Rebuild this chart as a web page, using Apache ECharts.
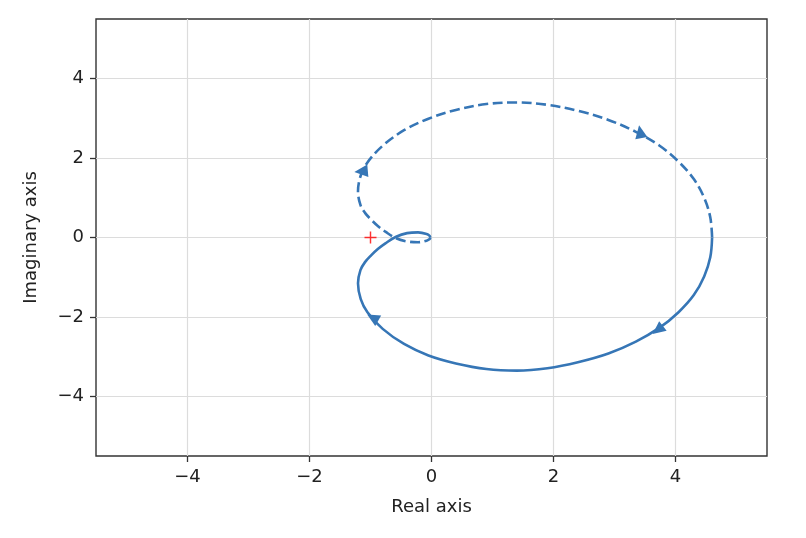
<!DOCTYPE html>
<html>
<head>
<meta charset="utf-8">
<script src="https://cdn.jsdelivr.net/npm/echarts@6/dist/echarts.min.js"></script>
<style>html,body{margin:0;padding:0;background:#fff;}#c{width:806px;height:538px;}</style>
</head>
<body>
<div id="c"></div>
<script>
// Positive-frequency branch (solid)
const solidRe = [4.60, 4.57, 4.47, 4.30, 4.05, 3.74, 3.35, 2.90, 2.40, 1.90, 1.40, 0.90, 0.40, -0.05, -0.45, -0.80, -1.05, -1.16, -1.205, -1.165, -1.09, -0.99, -0.88, -0.75, -0.58, -0.40, -0.22, -0.08, -0.03, -0.02];
const solidIm = [0.00, -0.50, -0.98, -1.45, -1.88, -2.27, -2.62, -2.92, -3.14, -3.29, -3.35, -3.31, -3.17, -2.97, -2.68, -2.30, -1.88, -1.55, -1.15, -0.82, -0.62, -0.45, -0.29, -0.14, 0.02, 0.11, 0.13, 0.09, 0.04, 0.00];
// Negative-frequency branch (dashed)
const dashRe = [4.60, 4.57, 4.47, 4.30, 4.05, 3.74, 3.35, 2.90, 2.40, 1.90, 1.40, 0.90, 0.40, -0.05, -0.45, -0.80, -1.05, -1.16, -1.205, -1.165, -1.09, -0.99, -0.88, -0.75, -0.58, -0.40, -0.22, -0.08, -0.03, -0.02];
const dashIm = [0.00, 0.51, 1.00, 1.47, 1.91, 2.31, 2.66, 2.96, 3.19, 3.34, 3.40, 3.36, 3.21, 2.99, 2.70, 2.31, 1.89, 1.56, 1.16, 0.82, 0.62, 0.45, 0.29, 0.14, -0.02, -0.10, -0.12, -0.08, -0.04, 0.00];
// Direction arrows
const arrowRe = [3.74, -0.94, 3.44, -1.15];
const arrowIm = [-2.27, -2.08, 2.65, 1.68];
// Critical point
const critRe = [-1];
const critIm = [0];
// Ticks
const xTicks = [-4, -2, 0, 2, 4];
const yTicks = [-4, -2, 0, 2, 4];

// arrow-head pointing directions (degrees, counter-clockwise from +x)
const arrowDir = [218, 150, 100, 185];
function triPath(deg) {
  const pts = [0, 130, -130].map(d => {
    const a = (deg + d) * Math.PI / 180;
    return [(Math.cos(a) * 10).toFixed(2), (-Math.sin(a) * 10).toFixed(2)];
  });
  return 'path://M' + pts[0].join(',') + 'L' + pts[1].join(',') + 'L' + pts[2].join(',') + 'Z';
}
const color = '#3676b6';
const zip = (a, b) => a.map((v, i) => [v, b[i]]);
const fmt = v => String(v).replace('-', '\u2212');
const font = 'DejaVu Sans';

const chart = echarts.init(document.getElementById('c'), null, {renderer: 'canvas'});
chart.setOption({
  animation: false,
  grid: {left: 96, right: 39, top: 19, bottom: 82, show: true, borderColor: '#333', borderWidth: 1.4, backgroundColor: 'transparent'},
  xAxis: {
    type: 'value', min: -5.5, max: 5.5,
    name: 'Real axis', nameLocation: 'middle', nameGap: 42,
    nameTextStyle: {fontFamily: font, fontSize: 18, color: '#222'},
    axisLine: {show: false, onZero: false},
    axisTick: {show: true, inside: false, length: 6, customValues: xTicks, lineStyle: {color: '#333', width: 1.3}},
    axisLabel: {customValues: xTicks, formatter: fmt, fontFamily: font, fontSize: 18, color: '#222', margin: 12},
    splitLine: {show: true, lineStyle: {color: '#dcdcdc', width: 1.2}}
  },
  yAxis: {
    type: 'value', min: -5.5, max: 5.5,
    name: 'Imaginary axis', nameLocation: 'middle', nameGap: 56,
    nameTextStyle: {fontFamily: font, fontSize: 18, color: '#222'},
    axisLine: {show: false, onZero: false},
    axisTick: {show: true, inside: false, length: 6, customValues: yTicks, lineStyle: {color: '#333', width: 1.3}},
    axisLabel: {customValues: yTicks, formatter: fmt, fontFamily: font, fontSize: 18, color: '#222', margin: 12},
    splitLine: {show: true, lineStyle: {color: '#dcdcdc', width: 1.2}}
  },
  series: [
    {type: 'line', data: zip(solidRe, solidIm), smooth: 0.35, showSymbol: false, symbol: 'none',
     lineStyle: {color: color, width: 2.6}, z: 3},
    {type: 'line', data: zip(dashRe, dashIm), smooth: 0.35, showSymbol: false, symbol: 'none',
     lineStyle: {color: color, width: 2.6, type: [10, 4.5]}, z: 3},
    {type: 'scatter', data: zip(arrowRe, arrowIm).map((p, i) => ({value: p, symbol: triPath(arrowDir[i])})),
     symbolSize: 14, symbolKeepAspect: true, itemStyle: {color: color, opacity: 1}, z: 4},
    {type: 'scatter', data: zip(critRe, critIm),
     symbol: 'path://M4.4,0h1.2v4.4h4.4v1.2h-4.4v4.4h-1.2v-4.4h-4.4v-1.2h4.4z', symbolSize: 12,
     itemStyle: {color: '#ff0000'}, z: 5}
  ]
});
</script>
</body>
</html>
